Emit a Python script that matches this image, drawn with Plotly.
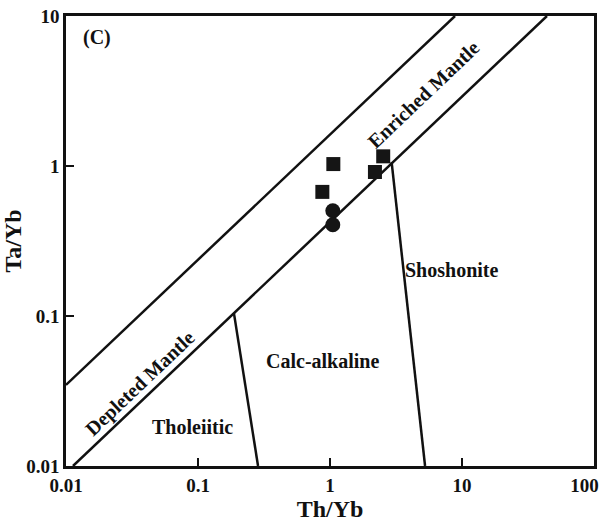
import plotly.graph_objects as go

# Boundary lines (Th/Yb, Ta/Yb)
upper_mantle_x = [0.01, 8.85]
upper_mantle_y = [0.0347, 10]
lower_mantle_x = [0.0113, 44]
lower_mantle_y = [0.01, 10]
thol_calc_x = [0.187, 0.285]
thol_calc_y = [0.105, 0.01]
calc_shosh_x = [2.93, 5.25]
calc_shosh_y = [1.06, 0.01]

# Samples
square_x = [1.06, 0.875, 2.19, 2.53]
square_y = [1.03, 0.672, 0.912, 1.16]
circle_x = [1.05, 1.05]
circle_y = [0.503, 0.406]

tick_vals = [0.01, 0.1, 1, 10, 100]
tick_text = ["0.01", "0.1", "1", "10", "100"]
ytick_vals = [0.01, 0.1, 1, 10]
ytick_text = ["0.01", "0.1", "1", "10"]

FONT = "Liberation Serif"
fig = go.Figure()
line_style = dict(color="#111111", width=2.5)
for xs, ys in [(upper_mantle_x, upper_mantle_y), (lower_mantle_x, lower_mantle_y),
               (thol_calc_x, thol_calc_y), (calc_shosh_x, calc_shosh_y)]:
    fig.add_trace(go.Scatter(x=xs, y=ys, mode="lines", line=line_style,
                             showlegend=False, hoverinfo="skip"))

fig.add_trace(go.Scatter(x=square_x, y=square_y, mode="markers",
                         marker=dict(symbol="square", size=14, color="#151515"),
                         showlegend=False))
fig.add_trace(go.Scatter(x=circle_x, y=circle_y, mode="markers",
                         marker=dict(symbol="circle", size=15, color="#151515"),
                         showlegend=False))

def ann(text, x, y, angle=0, size=20):
    fig.add_annotation(text=f"<b>{text}</b>", x=x, y=y, xref="paper", yref="paper",
                       xanchor="center", yanchor="middle",
                       showarrow=False, textangle=angle,
                       font=dict(family=FONT, size=size, color="#111111"))

ann("(C)", 0.059, 0.953, size=20)
ann("Enriched Mantle", 0.678, 0.826, angle=-43.6)
ann("Depleted Mantle", 0.140, 0.184, angle=-43.6)
ann("Tholeiitic", 0.239, 0.087)
ann("Calc-alkaline", 0.485, 0.233)
ann("Shoshonite", 0.731, 0.436)

axis_common = dict(showline=True, linecolor="#111111", linewidth=2.5, mirror=True,
                   showgrid=False, zeroline=False, ticks="inside", ticklen=8,
                   tickwidth=2, tickcolor="#111111", ticklabeloverflow="allow",
                   automargin=False,
                   tickfont=dict(family=FONT, size=19, color="#111111"))

# last x label padded so it stays inside the page
x_labels = [f"<b>{t}</b>" for t in tick_text]
x_labels[-1] = x_labels[-1] + "&nbsp;&nbsp;&nbsp;&nbsp;"

fig.update_xaxes(type="log", range=[-2, 2], tickvals=tick_vals,
                 ticktext=x_labels,
                 title=dict(text="<b>Th/Yb</b>", standoff=4,
                            font=dict(family=FONT, size=24, color="#111111")),
                 **axis_common)
fig.update_yaxes(type="log", range=[-2, 1], tickvals=ytick_vals,
                 ticktext=[f"<b>{t}</b>" for t in ytick_text],
                 title=dict(text="<b>Ta/Yb</b>", standoff=4,
                            font=dict(family=FONT, size=24, color="#111111")),
                 **axis_common)

fig.update_layout(width=603, height=528,
                  margin=dict(l=66, r=9, t=16, b=62),
                  plot_bgcolor="white", paper_bgcolor="white",
                  font=dict(family=FONT, color="#111111"))

fig.write_html("out.html", config={"displayModeBar": False},
               post_script="document.body.style.margin='0';")
